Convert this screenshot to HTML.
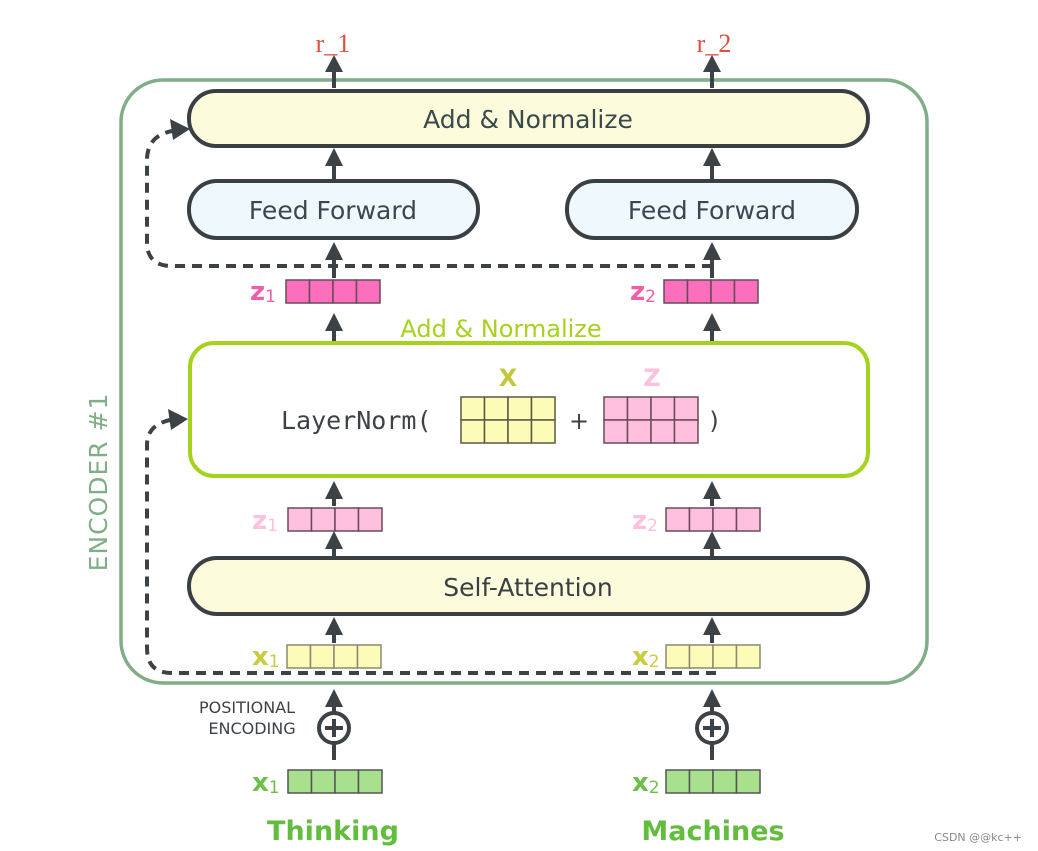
<!DOCTYPE html>
<html><head><meta charset="utf-8"><style>
html,body{margin:0;padding:0;background:#fff;}
svg{display:block;}
text{font-family:"DejaVu Sans","Liberation Sans",sans-serif;}
</style></head><body>
<svg width="1038" height="851" viewBox="0 0 1038 851" xmlns="http://www.w3.org/2000/svg">
<rect x="121" y="80" width="806" height="603" rx="42" fill="none" stroke="#80ae86" stroke-width="3.5"/>
<text transform="translate(107,482) rotate(-90)" text-anchor="middle" font-size="25" fill="#80ae86" letter-spacing="1">ENCODER #1</text>

<g fill="none" stroke="#3d4247" stroke-width="4" stroke-dasharray="10,7">
<path d="M712 266 L172 266 Q147 266 147 242 L147 160 Q147 136 172 131"/>
<path d="M716 673 L172 673 Q147 673 147 648 L147 445 Q147 425 170 420"/>
</g>
<polygon points="190,129 170,119 173,140" fill="#3d4247"/>
<polygon points="188,419 168,409 171,430" fill="#3d4247"/>

<g stroke="#3d4247" stroke-width="4" fill="#3d4247">
<line x1="334" y1="88" x2="334" y2="70"/><polygon points="334,55 325,72 343,72" stroke="none"/>
<line x1="712" y1="88" x2="712" y2="70"/><polygon points="712,55 703,72 721,72" stroke="none"/>
<line x1="334" y1="180" x2="334" y2="162"/><polygon points="334,148 325,166 343,166" stroke="none"/>
<line x1="712" y1="180" x2="712" y2="162"/><polygon points="712,148 703,166 721,166" stroke="none"/>
<line x1="334" y1="278" x2="334" y2="256"/><polygon points="334,242 325,260 343,260" stroke="none"/>
<line x1="712" y1="278" x2="712" y2="256"/><polygon points="712,242 703,260 721,260" stroke="none"/>
<line x1="334" y1="341" x2="334" y2="326"/><polygon points="334,313 325,331 343,331" stroke="none"/>
<line x1="712" y1="341" x2="712" y2="326"/><polygon points="712,313 703,331 721,331" stroke="none"/>
<line x1="334" y1="506" x2="334" y2="494"/><polygon points="334,481 325,499 343,499" stroke="none"/>
<line x1="712" y1="506" x2="712" y2="494"/><polygon points="712,481 703,499 721,499" stroke="none"/>
<line x1="334" y1="556" x2="334" y2="544"/><polygon points="334,531 325,549 343,549" stroke="none"/>
<line x1="712" y1="556" x2="712" y2="544"/><polygon points="712,531 703,549 721,549" stroke="none"/>
<line x1="334" y1="643" x2="334" y2="630"/><polygon points="334,617 325,635 343,635" stroke="none"/>
<line x1="712" y1="643" x2="712" y2="630"/><polygon points="712,617 703,635 721,635" stroke="none"/>
<line x1="334" y1="760" x2="334" y2="703"/><polygon points="334,689 325,707 343,707" stroke="none"/>
<line x1="712" y1="760" x2="712" y2="703"/><polygon points="712,689 703,707 721,707" stroke="none"/>
</g>
<g stroke="#3d4247" stroke-width="4" fill="#fff">
<circle cx="334" cy="728" r="15"/><circle cx="712" cy="728" r="15"/>
</g>
<g stroke="#3d4247" stroke-width="4">
<line x1="325" y1="728" x2="343" y2="728"/><line x1="334" y1="719" x2="334" y2="737"/>
<line x1="703" y1="728" x2="721" y2="728"/><line x1="712" y1="719" x2="712" y2="737"/>
</g>

<text x="333" y="52" text-anchor="middle" font-size="26" fill="#e0503c" style="font-family:'Liberation Serif',serif">r_1</text>
<text x="714" y="52" text-anchor="middle" font-size="26" fill="#e0503c" style="font-family:'Liberation Serif',serif">r_2</text>

<rect x="189" y="91" width="679" height="55" rx="27" fill="#fcfbdc" stroke="#3a3f44" stroke-width="4"/>
<text x="528" y="128" text-anchor="middle" font-size="25" fill="#3a4a4a">Add &amp; Normalize</text>
<rect x="189" y="181" width="289" height="57" rx="28" fill="#eef8fd" stroke="#3a3f44" stroke-width="4"/>
<text x="333" y="219" text-anchor="middle" font-size="25" fill="#3a4652">Feed Forward</text>
<rect x="567" y="181" width="290" height="57" rx="28" fill="#eef8fd" stroke="#3a3f44" stroke-width="4"/>
<text x="712" y="219" text-anchor="middle" font-size="25" fill="#3a4652">Feed Forward</text>

<g font-weight="bold" font-size="26" fill="#ee5fa9">
<text x="250" y="300">z<tspan font-size="17" font-weight="normal" dy="2">1</tspan></text>
<text x="630" y="300">z<tspan font-size="17" font-weight="normal" dy="2">2</tspan></text>
</g>
<g fill="#fb6fbd" stroke="#6a4a5a" stroke-width="1.5">
<rect x="286" y="280" width="23.5" height="23"/><rect x="309.5" y="280" width="23.5" height="23"/><rect x="333" y="280" width="23.5" height="23"/><rect x="356.5" y="280" width="23.5" height="23"/>
<rect x="664" y="280" width="23.5" height="23"/><rect x="687.5" y="280" width="23.5" height="23"/><rect x="711" y="280" width="23.5" height="23"/><rect x="734.5" y="280" width="23.5" height="23"/>
</g>

<text x="501" y="337" text-anchor="middle" font-size="24" fill="#a6d21e">Add &amp; Normalize</text>
<rect x="190" y="343" width="678" height="133" rx="24" fill="#fff" stroke="#a5d21c" stroke-width="4"/>
<text x="508" y="386" text-anchor="middle" font-size="24" font-weight="bold" fill="#c3c83a">X</text>
<text x="652" y="386" text-anchor="middle" font-size="24" font-weight="bold" fill="#ffbfdd">Z</text>
<text x="281" y="429" font-size="25" fill="#3d4247" style="font-family:'DejaVu Sans Mono','Liberation Mono',monospace">LayerNorm(</text>
<text x="579" y="429" text-anchor="middle" font-size="24" fill="#3d4247">+</text>
<text x="714" y="429" text-anchor="middle" font-size="24" fill="#3d4247">)</text>
<g fill="#fdfbb8" stroke="#5a5a40" stroke-width="1.5">
<rect x="461" y="397" width="23.5" height="23"/><rect x="484.5" y="397" width="23.5" height="23"/><rect x="508" y="397" width="23.5" height="23"/><rect x="531.5" y="397" width="23.5" height="23"/>
<rect x="461" y="420" width="23.5" height="23"/><rect x="484.5" y="420" width="23.5" height="23"/><rect x="508" y="420" width="23.5" height="23"/><rect x="531.5" y="420" width="23.5" height="23"/>
</g>
<g fill="#ffc0df" stroke="#6a4a5a" stroke-width="1.5">
<rect x="604" y="397" width="23.5" height="23"/><rect x="627.5" y="397" width="23.5" height="23"/><rect x="651" y="397" width="23.5" height="23"/><rect x="674.5" y="397" width="23.5" height="23"/>
<rect x="604" y="420" width="23.5" height="23"/><rect x="627.5" y="420" width="23.5" height="23"/><rect x="651" y="420" width="23.5" height="23"/><rect x="674.5" y="420" width="23.5" height="23"/>
</g>

<g font-weight="bold" font-size="26" fill="#ffc0df">
<text x="252" y="529">z<tspan font-size="17" font-weight="normal" dy="2">1</tspan></text>
<text x="632" y="529">z<tspan font-size="17" font-weight="normal" dy="2">2</tspan></text>
</g>
<g fill="#ffc0df" stroke="#6a4a5a" stroke-width="1.5">
<rect x="288" y="508" width="23.5" height="23"/><rect x="311.5" y="508" width="23.5" height="23"/><rect x="335" y="508" width="23.5" height="23"/><rect x="358.5" y="508" width="23.5" height="23"/>
<rect x="666" y="508" width="23.5" height="23"/><rect x="689.5" y="508" width="23.5" height="23"/><rect x="713" y="508" width="23.5" height="23"/><rect x="736.5" y="508" width="23.5" height="23"/>
</g>

<rect x="189" y="558" width="679" height="56" rx="28" fill="#fcfbdc" stroke="#3a3f44" stroke-width="4"/>
<text x="528" y="596" text-anchor="middle" font-size="25" fill="#3a3f44">Self-Attention</text>

<g font-weight="bold" font-size="26" fill="#c9cd3d">
<text x="252" y="665">x<tspan font-size="17" font-weight="normal" dy="2">1</tspan></text>
<text x="632" y="665">x<tspan font-size="17" font-weight="normal" dy="2">2</tspan></text>
</g>
<g fill="#fdfbb8" stroke="#8a8a70" stroke-width="1.5">
<rect x="287" y="645" width="23.5" height="23"/><rect x="310.5" y="645" width="23.5" height="23"/><rect x="334" y="645" width="23.5" height="23"/><rect x="357.5" y="645" width="23.5" height="23"/>
<rect x="666" y="645" width="23.5" height="23"/><rect x="689.5" y="645" width="23.5" height="23"/><rect x="713" y="645" width="23.5" height="23"/><rect x="736.5" y="645" width="23.5" height="23"/>
</g>

<text x="247" y="713" text-anchor="middle" font-size="16" fill="#3d4247">POSITIONAL</text>
<text x="252" y="734" text-anchor="middle" font-size="16" fill="#3d4247">ENCODING</text>

<g font-weight="bold" font-size="26" fill="#6cc04a">
<text x="252" y="791">x<tspan font-size="17" font-weight="normal" dy="2">1</tspan></text>
<text x="632" y="791">x<tspan font-size="17" font-weight="normal" dy="2">2</tspan></text>
</g>
<g fill="#a8e08e" stroke="#555" stroke-width="1.5">
<rect x="288" y="770" width="23.5" height="23"/><rect x="311.5" y="770" width="23.5" height="23"/><rect x="335" y="770" width="23.5" height="23"/><rect x="358.5" y="770" width="23.5" height="23"/>
<rect x="666" y="770" width="23.5" height="23"/><rect x="689.5" y="770" width="23.5" height="23"/><rect x="713" y="770" width="23.5" height="23"/><rect x="736.5" y="770" width="23.5" height="23"/>
</g>
<text x="333" y="840" text-anchor="middle" font-size="27" font-weight="bold" fill="#62bd3e">Thinking</text>
<text x="713" y="840" text-anchor="middle" font-size="27" font-weight="bold" fill="#62bd3e">Machines</text>

<text x="1022" y="841" text-anchor="end" font-size="11" fill="#888">CSDN @@kc++</text>
</svg>
</body></html>
